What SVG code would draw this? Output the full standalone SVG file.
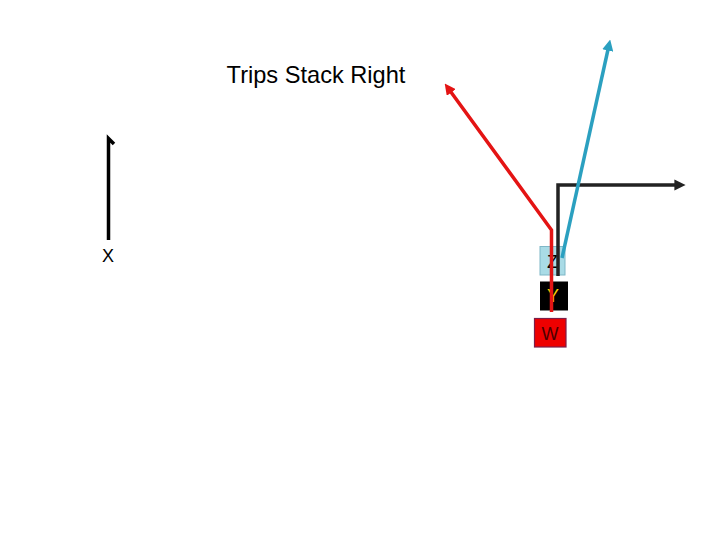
<svg xmlns="http://www.w3.org/2000/svg" width="720" height="540" viewBox="0 0 720 540">
<defs>
<style>
.lbl{font-family:"Liberation Sans",Arial,sans-serif;font-size:18px;text-anchor:middle}
.rt{fill:none;stroke-width:3.5;stroke-linejoin:miter}
</style>
<marker id="arR" viewBox="0 0 10 10" refX="5" refY="5" markerWidth="3.2" markerHeight="3.2" orient="auto" markerUnits="strokeWidth"><path d="M0,0 L10,5 L0,10 z" fill="#e41414"/></marker>
<marker id="arB" viewBox="0 0 10 10" refX="5" refY="5" markerWidth="3.2" markerHeight="3.2" orient="auto" markerUnits="strokeWidth"><path d="M0,0 L10,5 L0,10 z" fill="#2ba0c0"/></marker>
<marker id="arK" viewBox="0 0 10 10" refX="5" refY="5" markerWidth="3.2" markerHeight="3.2" orient="auto" markerUnits="strokeWidth"><path d="M0,0 L10,5 L0,10 z" fill="#222"/></marker>
</defs>
<rect width="720" height="540" fill="#fff"/>
<text x="316" y="83" font-family="Liberation Sans,Arial,sans-serif" font-size="23.6" text-anchor="middle" fill="#000">Trips Stack Right</text>
<g id="node-z"><rect x="540" y="246.5" width="25" height="28.5" fill="#a9dbe6" stroke="#7fb7c7" stroke-width="1"/><text class="lbl" x="552.5" y="268" fill="#000">Z</text></g>
<g id="node-y"><rect x="540" y="281.5" width="28" height="29" fill="#000"/><text class="lbl" x="553" y="302" fill="#f5d000">Y</text></g>
<g id="node-w"><rect x="534.5" y="318.5" width="31.5" height="28.5" fill="#ee0000" stroke="#7a1f4a" stroke-width="1.2"/><text class="lbl" x="550" y="340" fill="#4a0000">W</text></g>
<g id="node-x"><text class="lbl" x="108" y="262" fill="#000">X</text></g>
<g id="connectors">
<path class="rt" d="M108.5,240 V138.5 L114,144" stroke="#000" stroke-width="3"/>
<path class="rt" d="M558,276 V185 H680" stroke="#222" marker-end="url(#arK)"/>
<path class="rt" d="M562,258 L609,45" stroke="#2ba0c0" marker-end="url(#arB)"/>
<path class="rt" d="M551.5,312 V230 L448,88" stroke="#e41414" marker-end="url(#arR)"/>
</g>
</svg>
